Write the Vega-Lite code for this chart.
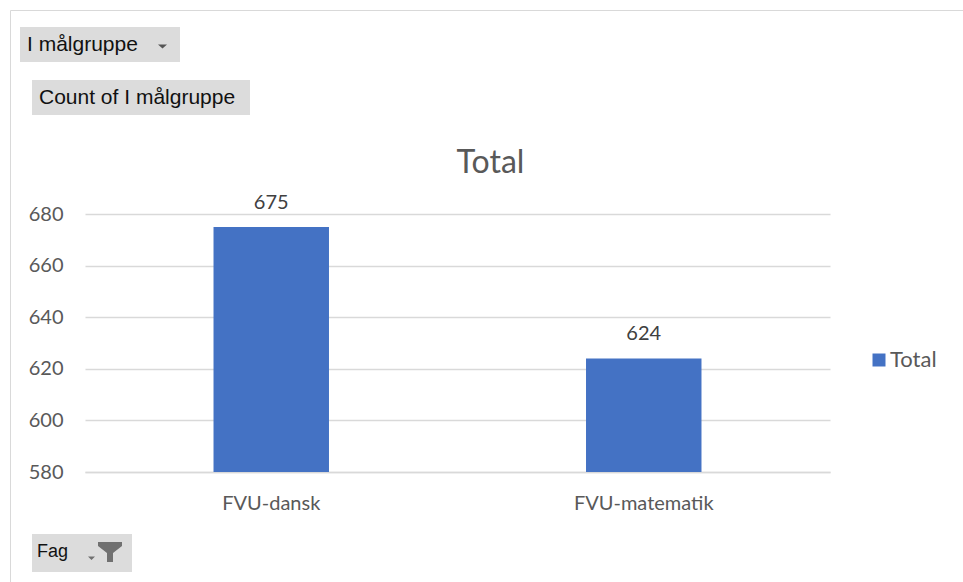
{
  "$schema": "https://vega.github.io/schema/vega-lite/v6.json",
  "width": 745,
  "height": 258,
  "autosize": {"type": "none"},
  "padding": {"left": 85, "top": 214, "right": 133, "bottom": 110},
  "background": "white",
  "title": {
    "text": "Total",
    "font": "Lato",
    "fontSize": 32,
    "fontWeight": "normal",
    "color": "#595959",
    "anchor": "middle",
    "frame": "group",
    "dx": 33,
    "baseline": "alphabetic",
    "offset": -195
  },
  "datasets": {
    "bars": [
      {"fag": "FVU-dansk", "count": 675, "series": "Total"},
      {"fag": "FVU-matematik", "count": 624, "series": "Total"}
    ],
    "btnRows": [{"felt": "I målgruppe"}],
    "btnVals": [{"felt": "Count of I målgruppe"}],
    "btnAxis": [{"felt": "Fag"}],
    "frame": [{"felt": " "}]
  },
  "layer": [
    {
      "data": {"name": "bars"},
      "mark": {"type": "bar", "width": {"band": 0.31}},
      "encoding": {
        "x": {
          "field": "fag",
          "type": "nominal",
          "sort": null,
          "scale": {"paddingInner": 0, "paddingOuter": 0},
          "axis": {
            "title": null,
            "labelAngle": 0,
            "labelFont": "Lato",
            "labelFontSize": 20,
            "labelColor": "#595959",
            "labelPadding": 21,
            "ticks": false,
            "domainColor": "#d9d9d9",
            "domainWidth": 1.5
          }
        },
        "y": {
          "field": "count",
          "type": "quantitative",
          "scale": {"domain": [580, 680], "zero": false, "nice": false},
          "axis": {
            "title": null,
            "values": [580, 600, 620, 640, 660, 680],
            "domain": false,
            "ticks": false,
            "grid": true,
            "gridColor": "#d9d9d9",
            "gridWidth": 1.3,
            "labelFont": "Lato",
            "labelFontSize": 20,
            "labelColor": "#595959",
            "labelPadding": 22
          }
        },
        "y2": {"datum": 580},
        "color": {
          "field": "series",
          "type": "nominal",
          "scale": {"range": ["#4472C4"]},
          "legend": {
            "title": null,
            "orient": "none",
            "legendX": 783,
            "legendY": 135,
            "symbolType": "square",
            "symbolSize": 169,
            "symbolStrokeWidth": 0,
            "labelFont": "Lato",
            "labelFontSize": 22,
            "labelColor": "#595959",
            "labelOffset": 0,
            "padding": 0
          }
        }
      }
    },
    {
      "data": {"name": "bars"},
      "mark": {"type": "text", "font": "Lato", "fontSize": 20, "color": "#404040", "baseline": "alphabetic", "dy": -18},
      "encoding": {
        "x": {"field": "fag", "type": "nominal", "sort": null},
        "y": {"field": "count", "type": "quantitative"},
        "text": {"field": "count", "type": "quantitative"}
      }
    },
    {
      "data": {"name": "btnRows"},
      "mark": {"type": "point", "opacity": 0, "filled": true, "color": "#555555"},
      "encoding": {
        "shape": {
          "field": "felt",
          "type": "nominal",
          "scale": {"range": ["M12.0,-0.05L12.9,-0.05L12.45,0.35ZM13.15,0L13.16,0L13.15,0.01Z"]},
          "legend": {
            "title": null,
            "orient": "none",
            "legendX": -65,
            "legendY": -187,
            "symbolSize": 400,
            "symbolFillColor": "#555555",
            "symbolStrokeColor": "transparent",
            "symbolOpacity": 1,
            "labelOffset": -22,
            "labelLimit": 400,
            "labelFont": "Liberation Sans",
            "labelFontSize": 21,
            "labelColor": "#111111",
            "padding": 7,
            "fillColor": "#dcdcdc",
            "encode": {
              "legend": {"update": {"fill": {"value": {"gradient": "linear", "x1": 0, "y1": 0, "x2": 0, "y2": 1, "stops": [{"offset": 0, "color": "#ebebeb"}, {"offset": 1, "color": "#c9c9c9"}]}}}},
              "symbols": {"update": {"fill": {"value": "#555555"}, "stroke": {"value": "transparent"}, "opacity": {"value": 1}}}
            }
          }
        }
      }
    },
    {
      "data": {"name": "btnVals"},
      "mark": {"type": "point", "opacity": 0, "filled": true, "color": "#dddddd"},
      "encoding": {
        "shape": {
          "field": "felt",
          "type": "nominal",
          "scale": {"range": ["M18.9,0L18.91,0L18.9,0.01Z"]},
          "legend": {
            "title": null,
            "orient": "none",
            "legendX": -53,
            "legendY": -134,
            "symbolSize": 400,
            "symbolFillColor": "transparent",
            "symbolStrokeColor": "transparent",
            "labelOffset": -22,
            "labelLimit": 400,
            "labelFont": "Liberation Sans",
            "labelFontSize": 21,
            "labelColor": "#111111",
            "padding": 7,
            "fillColor": "#dcdcdc",
            "encode": {
              "legend": {"update": {"fill": {"value": {"gradient": "linear", "x1": 0, "y1": 0, "x2": 0, "y2": 1, "stops": [{"offset": 0, "color": "#ebebeb"}, {"offset": 1, "color": "#c9c9c9"}]}}}},
              "symbols": {"update": {"fill": {"value": "transparent"}, "stroke": {"value": "transparent"}, "opacity": {"value": 1}}}
            }
          }
        }
      }
    },
    {
      "data": {"name": "btnAxis"},
      "mark": {"type": "point", "opacity": 0, "filled": true, "color": "#707070"},
      "encoding": {
        "shape": {
          "field": "felt",
          "type": "nominal",
          "scale": {"range": ["M3.8,0.45L4.5,0.45L4.15,0.8ZM4.8,-1.0L7.2,-1.0L7.2,-0.6L6.3,0.1L6.3,1.0L5.7,1.0L5.7,0.1L4.8,-0.6Z"]},
          "legend": {
            "title": null,
            "orient": "none",
            "legendX": -53,
            "legendY": 320,
            "symbolSize": 400,
            "symbolFillColor": "#707070",
            "symbolStrokeColor": "transparent",
            "symbolOpacity": 1,
            "labelOffset": -24,
            "labelFont": "Liberation Sans",
            "labelFontSize": 18,
            "labelColor": "#111111",
            "padding": 7,
            "fillColor": "#dcdcdc",
            "encode": {
              "legend": {"update": {"fill": {"value": {"gradient": "linear", "x1": 0, "y1": 0, "x2": 0, "y2": 1, "stops": [{"offset": 0, "color": "#e6e6e6"}, {"offset": 1, "color": "#c9c9c9"}]}}}},
              "symbols": {"update": {"fill": {"value": "#707070"}, "stroke": {"value": "transparent"}, "opacity": {"value": 1}}}
            }
          }
        }
      }
    },
    {
      "data": {"name": "frame"},
      "mark": {"type": "point", "opacity": 0, "filled": true},
      "encoding": {
        "shape": {
          "field": "felt",
          "type": "nominal",
          "scale": {"range": ["circle"]},
          "legend": {
            "title": null,
            "orient": "none",
            "legendX": -75,
            "legendY": -204,
            "symbolSize": 0,
            "labelFontSize": 1,
            "padding": 700,
            "strokeColor": "#d9d9d9",
            "encode": {
              "legend": {"update": {"strokeWidth": {"value": 2}, "fill": {"value": "transparent"}}}
            }
          }
        }
      }
    }
  ],
  "resolve": {
    "scale": {"shape": "independent"},
    "legend": {"shape": "independent"}
  },
  "config": {
    "view": {"stroke": null},
    "font": "Lato"
  }
}
